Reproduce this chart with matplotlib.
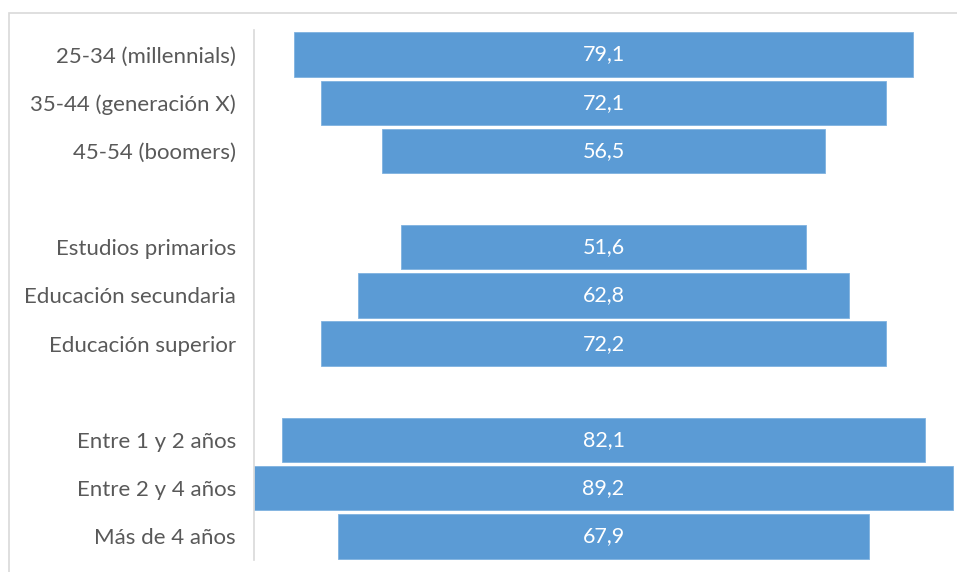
import matplotlib.pyplot as plt
from matplotlib.patches import Rectangle

# Encuesta: porcentaje por grupo (edad, estudios, antigüedad)
labels = [
    "25-34 (millennials)", "35-44 (generación X)", "45-54 (boomers)",
    "Estudios primarios", "Educación secundaria", "Educación superior",
    "Entre 1 y 2 años", "Entre 2 y 4 años", "Más de 4 años",
]
values = [79.1, 72.1, 56.5, 51.6, 62.8, 72.2, 82.1, 89.2, 67.9]
group_size = 3

BAR_COLOR = "#5B9BD5"
TEXT_COLOR = "#595959"
FONT = "Lato"

W, H = 957, 572
fig = plt.figure(figsize=(W / 100, H / 100), dpi=100)

# marco gris claro del área del gráfico (sólo se ven los bordes superior e izquierdo)
fig.patches.append(Rectangle((9 / W, -0.1), 1.2, (H - 13) / H + 0.1, transform=fig.transFigure,
                             fill=False, edgecolor="#D9D9D9", linewidth=1.2))

ax = fig.add_axes([254 / W, 12 / H, (W - 254) / W, 530 / H])

# posiciones: cada grupo de tres barras separado por una fila vacía
pos = [i + i // group_size for i in range(len(values))]

lefts = [-v / 2 for v in values]
ax.barh(pos, values, left=lefts, height=0.92, color=BAR_COLOR,
        edgecolor="#7FB2E0", linewidth=0.6)

for y, v in zip(pos, values):
    ax.text(0, y, f"{v:.1f}".replace(".", ","), ha="center", va="center",
            color="white", fontsize=15.5, family=FONT)

ax.set_xlim(-44.62, 45.13)
ax.set_ylim(10.49, -0.51)
ax.set_yticks(pos)
ax.set_yticklabels(labels, fontsize=16, color=TEXT_COLOR, family=FONT)
ax.tick_params(axis="y", length=0, pad=13)
ax.set_xticks([])

for side in ["top", "right", "bottom"]:
    ax.spines[side].set_visible(False)
ax.spines["left"].set_color("#D9D9D9")
ax.spines["left"].set_linewidth(1.2)
ax.patch.set_visible(False)

fig.savefig("out.png", dpi=100)
